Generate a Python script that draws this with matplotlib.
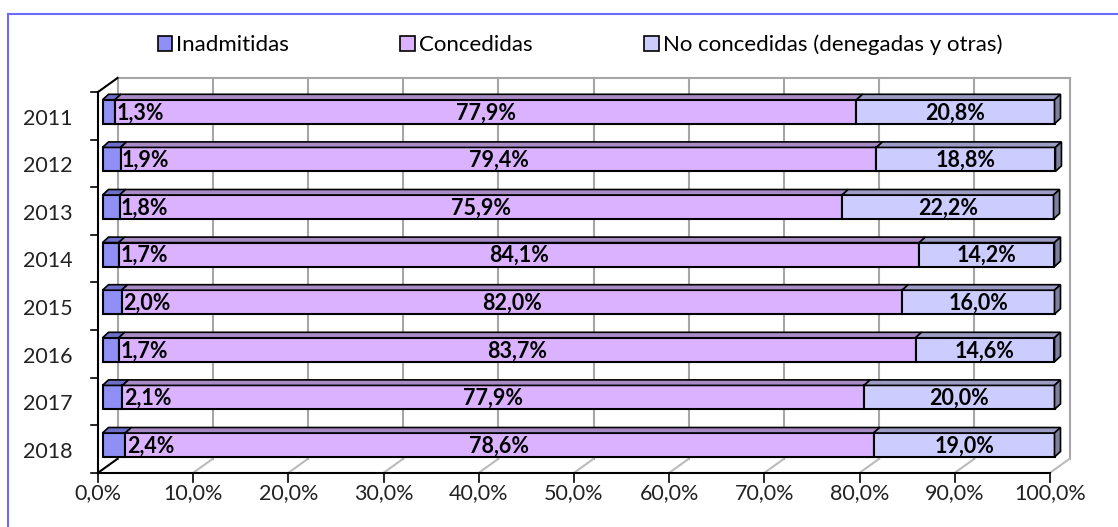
import matplotlib.pyplot as plt
from matplotlib.patches import Polygon, Rectangle
from matplotlib.lines import Line2D

years = ["2011", "2012", "2013", "2014", "2015", "2016", "2017", "2018"]
inadmitidas = [1.3, 1.9, 1.8, 1.7, 2.0, 1.7, 2.1, 2.4]
concedidas = [77.9, 79.4, 75.9, 84.1, 82.0, 83.7, 77.9, 78.6]
no_concedidas = [20.8, 18.8, 22.2, 14.2, 16.0, 14.6, 20.0, 19.0]
series_names = ["Inadmitidas", "Concedidas", "No concedidas (denegadas y otras)"]
xticks = [0, 10, 20, 30, 40, 50, 60, 70, 80, 90, 100]

front_cols = ["#8F8FF5", "#DAB2FF", "#CCCCFF"]
top_cols = ["#6E6EC8", "#A98BC6", "#9C9CC4"]
side_col = "#80809E"

plt.rcParams['font.family'] = ['Lato', 'DejaVu Sans']

fig = plt.figure(figsize=(11.18, 5.27), dpi=100)
# axes covers pixel x 90..1080, y 70..485 (0% at x=98, 100% at x=1050)
ax = fig.add_axes([90 / 1118, 1 - 485 / 527, 990 / 1118, 415 / 527])
ax.set_xlim(-8 / 9.52, (1080 - 98) / 9.52)
ax.set_ylim((485 - 115.8) / 47.6, (70 - 115.8) / 47.6)
ax.axis("off")

# depth offsets (data units)
DX, DY = 19.5 / 9.52, -14 / 47.6       # full wall depth
BX, BY = 4.5 / 9.52, -4 / 47.6         # bar front face offset
TX, TY = 6 / 9.52, -5.5 / 47.6         # bar depth
H = 24 / 47.6
n = len(years)
top, bottom = -0.5, n - 0.5

# back wall gridlines and edges
for x in xticks:
    ax.plot([x + DX, x + DX], [bottom + DY, top + DY], color="#A6A6A6", lw=1.5, zorder=1)
    ax.plot([x, x + DX], [bottom, bottom + DY], color="#BBBBBB" if x else "black", lw=1.5, zorder=1)
ax.plot([DX, 100 + DX], [top + DY, top + DY], color="#A6A6A6", lw=1.5, zorder=1)

# front axes
ax.plot([0, 0], [bottom, top], color="black", lw=1.5, zorder=2)
ax.plot([0, DX], [top, top + DY], color="black", lw=1.5, zorder=2)
ax.plot([0, 100], [bottom, bottom], color="black", lw=1.5, zorder=2)
for x in xticks:
    ax.plot([x, x], [bottom, bottom + 9 / 47.6], color="black", lw=1.2, zorder=2)
    ax.text(x, bottom + 0.42, f"{x:.1f}%".replace(".", ","), ha="center", va="center",
            fontsize=15.5, color="#222222")
for k in range(n + 1):
    ax.plot([-7 / 9.52, 0], [k - 0.5, k - 0.5], color="black", lw=1.2, zorder=2)
for i, yr in enumerate(years):
    ax.text(-25 / 9.52, i + 0.06, yr, ha="right", va="center", fontsize=15.5, color="#222222")

# bars
for i in range(n):
    vals = [inadmitidas[i], concedidas[i], no_concedidas[i]]
    y = i + BY
    left = BX
    for j, v in enumerate(vals):
        ax.barh(y, v, left=left, height=H, color=front_cols[j], edgecolor="black", lw=1.5, zorder=3)
        yt = y - H / 2
        ax.add_patch(Polygon([(left, yt), (left + v, yt), (left + v + TX, yt + TY), (left + TX, yt + TY)],
                             closed=True, facecolor=top_cols[j], edgecolor="black", lw=1.2, zorder=3))
        left += v
    ax.add_patch(Polygon([(left, y - H / 2), (left, y + H / 2), (left + TX, y + H / 2 + TY),
                          (left + TX, y - H / 2 + TY)], closed=True, facecolor=side_col,
                         edgecolor="black", lw=1.2, zorder=3))
    # labels
    lab = lambda v: f"{v:.1f}%".replace(".", ",")
    ax.text(BX + vals[0] + 0.15, y + 0.02, lab(vals[0]), ha="left", va="center",
            fontsize=15.5, fontweight="bold", zorder=4)
    ax.text(BX + vals[0] + vals[1] / 2, y + 0.02, lab(vals[1]), ha="center", va="center",
            fontsize=15.5, fontweight="bold", zorder=4)
    ax.text(BX + vals[0] + vals[1] + vals[2] / 2, y + 0.02, lab(vals[2]), ha="center", va="center",
            fontsize=15.5, fontweight="bold", zorder=4)

handles = [Rectangle((0, 0), 1, 1, facecolor=c, edgecolor="black", lw=1.2) for c in front_cols]
fig.legend(handles, series_names, loc="center", bbox_to_anchor=(580 / 1118, 1 - 45 / 527),
           ncol=3, frameon=False, fontsize=16, handlelength=0.65, handleheight=0.65,
           handletextpad=0.2, columnspacing=5.0)

# outer border
fig.add_artist(Line2D([7.5 / 1118, 7.5 / 1118], [0, 1 - 14 / 527], transform=fig.transFigure,
                      color="#6B6BFF", lw=1.5))
fig.add_artist(Line2D([7.5 / 1118, 1], [1 - 14 / 527, 1 - 14 / 527], transform=fig.transFigure,
                      color="#6B6BFF", lw=1.5))

fig.savefig("out.png", dpi=100)
